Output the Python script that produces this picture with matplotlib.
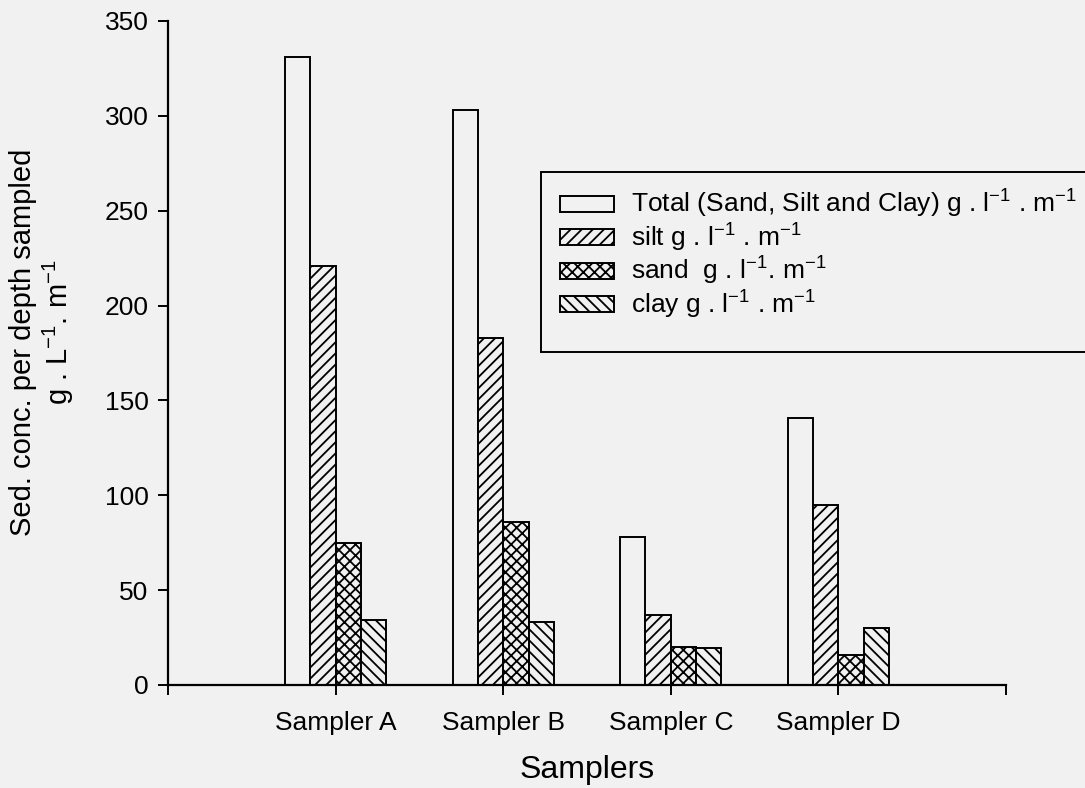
import numpy as np
import matplotlib
matplotlib.use('Agg')
from matplotlib import pyplot as plt
from matplotlib.patches import Rectangle

plt.rcParams['font.family'] = ['Liberation Sans', 'DejaVu Sans']
plt.rcParams['mathtext.fontset'] = 'custom'
plt.rcParams['mathtext.rm'] = 'Liberation Sans'
plt.rcParams['mathtext.it'] = 'Liberation Sans:italic'
plt.rcParams['hatch.linewidth'] = 1.3

samplers = ['Sampler A', 'Sampler B', 'Sampler C', 'Sampler D']
total = [331, 303, 78, 141]
silt = [221, 183, 37, 95]
sand = [75, 86, 20, 16]
clay = [34, 33, 19.5, 30]

labels = ['Total (Sand, Silt and Clay) g . l$^{-1}$ . m$^{-1}$',
          'silt g . l$^{-1}$ . m$^{-1}$',
          'sand  g . l$^{-1}$. m$^{-1}$',
          'clay g . l$^{-1}$ . m$^{-1}$']
hatches = ['', '///', 'xxx', '\\\\\\']

bg = '#f1f1f1'
W, H = 1085, 788
fig = plt.figure(figsize=(W / 100, H / 100), dpi=100, facecolor=bg)
ax = fig.add_axes([168 / W, 1 - 685 / H, (1006 - 168) / W, (685 - 21) / H])
ax.set_facecolor(bg)

x = np.arange(len(samplers))
w = 0.151
series = [total, silt, sand, clay]
for i, vals in enumerate(series):
    ax.bar(x + (i - 1.5) * w, vals, w, facecolor=bg, edgecolor='black',
           linewidth=1.4, hatch=hatches[i], label=labels[i])

ax.set_xlim(-1, 4)
ax.set_ylim(0, 350)
ax.set_xticks([-1, 0, 1, 2, 3, 4])
ax.set_xticklabels([''] + samplers + [''], fontsize=19)
ax.set_yticks(np.arange(0, 351, 50))
ax.tick_params(axis='y', labelsize=19, length=7, width=1.4, pad=7)
ax.tick_params(axis='x', length=7, width=1.4, pad=12)
for s in ['top', 'right']:
    ax.spines[s].set_visible(False)
for s in ['left', 'bottom']:
    ax.spines[s].set_linewidth(1.6)

ax.set_xlabel('Samplers', fontsize=23, labelpad=14)
fig.text(23 / W, 1 - 342 / H, 'Sed. conc. per depth sampled', rotation=90,
         fontsize=21, ha='center', va='center')
fig.text(58 / W, 1 - 332 / H, 'g . L$^{-1}$. m$^{-1}$', rotation=90,
         fontsize=21, ha='center', va='center')

# legend frame runs off the right edge like in the scan
fig.patches.append(Rectangle((541 / W, 1 - 352 / H), 560 / W, 180 / H,
                             transform=fig.transFigure, facecolor=bg,
                             edgecolor='black', linewidth=1.4, zorder=2))
leg = fig.legend(loc='upper left', bbox_to_anchor=(539 / W, 1 - 167 / H),
                 fontsize=19, handlelength=2.05, handleheight=0.55,
                 labelspacing=0.05, handletextpad=0.65, borderpad=0.3,
                 frameon=False)
leg.set_zorder(3)

fig.savefig('out.png', dpi=100, facecolor=bg)
